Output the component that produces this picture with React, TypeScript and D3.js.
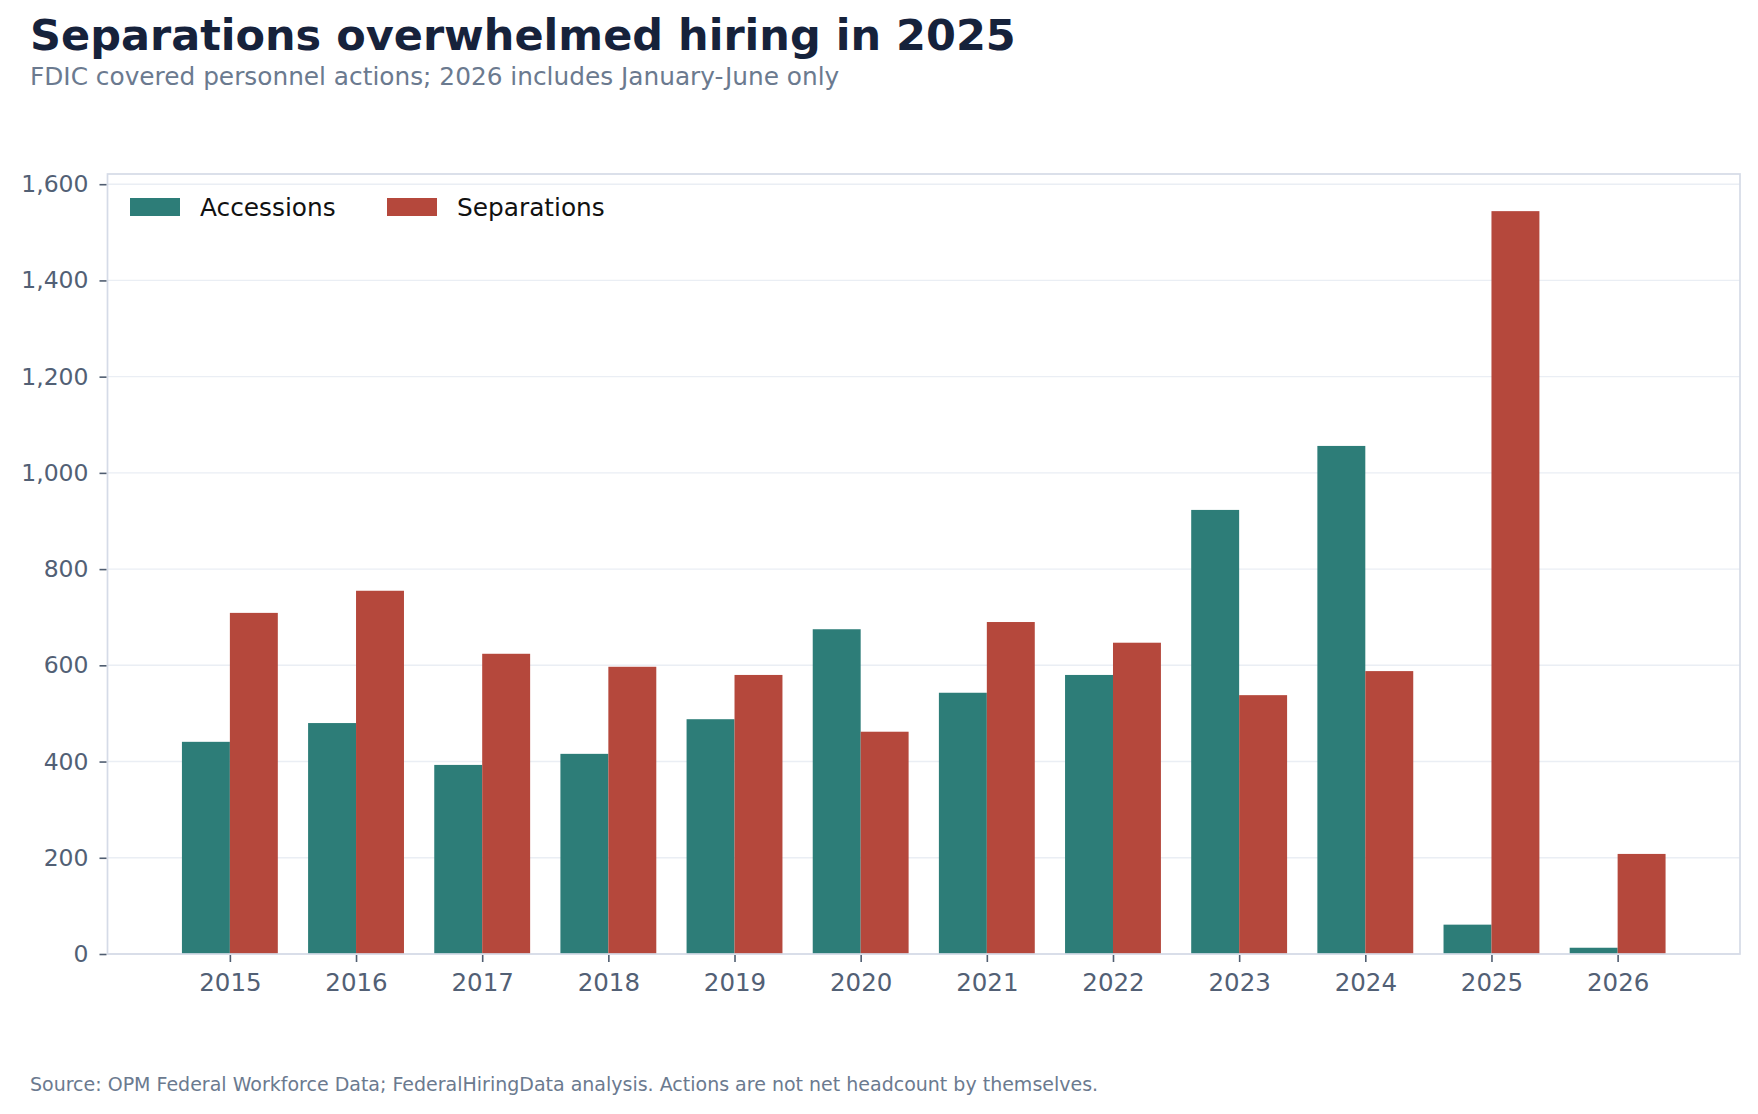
import React, { useEffect, useRef } from 'react';
import * as d3 from 'd3';

// Chart data
const years = ['2015', '2016', '2017', '2018', '2019', '2020', '2021', '2022', '2023', '2024', '2025', '2026'];
const accessions = [441, 480, 393, 416, 488, 675, 543, 580, 923, 1056, 61, 13];
const separations = [709, 755, 624, 597, 580, 462, 690, 647, 538, 588, 1544, 208];
const yTicks = [0, 200, 400, 600, 800, 1000, 1200, 1400, 1600];

const seriesNames = ['Accessions', 'Separations'];
const seriesColors = ['#2d7d78', '#b5483c'];

const FONT = '"DejaVu Sans", Verdana, sans-serif';

const App: React.FC = () => {
  const svgRef = useRef<SVGSVGElement | null>(null);

  useEffect(() => {
    const svg = d3.select(svgRef.current);
    svg.selectAll('*').remove();

    const width = 1758;
    const height = 1114;
    const plot = { left: 107.5, top: 174, right: 1740, bottom: 954 };
    const barW = 0.38;

    const x = d3.scaleLinear().domain([-0.97, years.length - 1 + 0.97]).range([plot.left, plot.right]);
    const yMax = (d3.max([...accessions, ...separations]) || 0) * 1.05;
    const y = d3.scaleLinear().domain([0, yMax]).range([plot.bottom, plot.top]);

    svg.attr('width', width).attr('height', height).style('font-family', FONT);
    svg.append('rect').attr('width', width).attr('height', height).attr('fill', '#ffffff');

    // title block
    svg.append('text')
      .attr('x', 30).attr('y', 50)
      .attr('font-size', 43).attr('font-weight', 'bold').attr('fill', '#16223b')
      .text('Separations overwhelmed hiring in 2025');
    svg.append('text')
      .attr('x', 30).attr('y', 85)
      .attr('font-size', 24.8).attr('fill', '#6b7a8f')
      .text('FDIC covered personnel actions; 2026 includes January-June only');

    // gridlines
    svg.append('g')
      .selectAll('line')
      .data(yTicks)
      .join('line')
      .attr('x1', plot.left).attr('x2', plot.right)
      .attr('y1', d => y(d)).attr('y2', d => y(d))
      .attr('stroke', '#eaeef4').attr('stroke-width', 1.4);

    // bars
    const series = [accessions, separations];
    series.forEach((vals, si) => {
      svg.append('g')
        .selectAll('rect')
        .data(vals)
        .join('rect')
        .attr('x', (_, i) => x(i + (si === 0 ? -barW : 0)))
        .attr('width', x(barW) - x(0))
        .attr('y', d => y(d))
        .attr('height', d => y(0) - y(d))
        .attr('fill', seriesColors[si]);
    });

    // frame
    svg.append('rect')
      .attr('x', plot.left).attr('y', plot.top)
      .attr('width', plot.right - plot.left).attr('height', plot.bottom - plot.top)
      .attr('fill', 'none').attr('stroke', '#d5dbe7').attr('stroke-width', 1.7);

    // axes
    const yAxis = svg.append('g')
      .attr('transform', `translate(${plot.left - 1},0)`)
      .call(d3.axisLeft(y).tickValues(yTicks).tickSize(7).tickPadding(11).tickFormat(d3.format(',')));
    const xAxis = svg.append('g')
      .attr('transform', `translate(0,${plot.bottom + 1})`)
      .call(d3.axisBottom(x).tickValues(d3.range(years.length)).tickSize(7).tickPadding(12)
        .tickFormat(i => years[+i]));
    [yAxis, xAxis].forEach(a => {
      a.select('.domain').remove();
      a.selectAll('line').attr('stroke', '#4f5d70').attr('stroke-width', 1.6);
      a.selectAll('text').attr('fill', '#526075').attr('font-family', FONT);
    });
    yAxis.selectAll('text').attr('font-size', 23.5);
    xAxis.selectAll('text').attr('font-size', 24.5);

    // legend
    const legend = svg.append('g').attr('transform', `translate(130,198)`);
    const legendX = [0, 257];
    seriesNames.forEach((name, i) => {
      legend.append('rect')
        .attr('x', legendX[i]).attr('y', 0)
        .attr('width', 50).attr('height', 18)
        .attr('fill', seriesColors[i]);
      legend.append('text')
        .attr('x', legendX[i] + 70).attr('y', 9).attr('dy', '0.35em')
        .attr('font-size', 24.8).attr('fill', '#111111')
        .text(name);
    });

    // footer
    svg.append('text')
      .attr('x', 30).attr('y', 1091)
      .attr('font-size', 19).attr('fill', '#6b7a8f')
      .text('Source: OPM Federal Workforce Data; FederalHiringData analysis. Actions are not net headcount by themselves.');
  }, []);

  return (
    <div>
      <style>{'body{margin:0}'}</style>
      <svg ref={svgRef} style={{ display: 'block' }}></svg>
    </div>
  );
};

export default App;
